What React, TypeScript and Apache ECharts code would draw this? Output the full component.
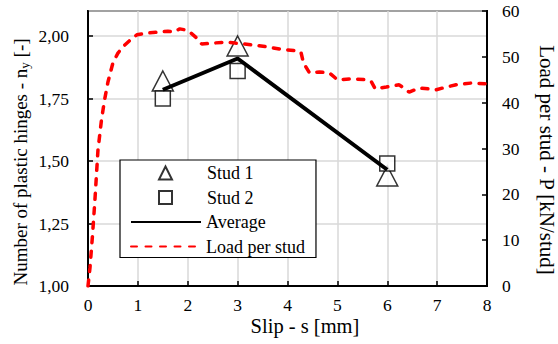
import React, { useEffect, useRef } from "react";
import * as echarts from "echarts";

const studSlip = [1.5, 3, 6];
const stud1 = [1.82, 1.96, 1.44];
const stud2 = [1.75, 1.86, 1.49];
const average = [1.785, 1.91, 1.465];

const loadSlip = [0, 0.04, 0.09, 0.14, 0.2, 0.27, 0.33, 0.4, 0.5, 0.6, 0.7, 0.84, 0.98, 1.18, 1.44, 1.6, 1.72, 1.84, 1.94, 2.04, 2.18, 2.28, 2.5, 2.78, 2.95, 3.3, 3.58, 3.84, 4.2, 4.27, 4.32, 4.44, 4.64, 4.84, 5.0, 5.3, 5.58, 5.68, 5.76, 5.98, 6.24, 6.44, 6.64, 6.84, 6.98, 7.18, 7.38, 7.7, 8.0];
const loadValues = [0, 4, 11, 19, 29.7, 36.2, 40.5, 44.5, 48.7, 50.8, 52.2, 53.6, 54.8, 55.2, 55.4, 55.6, 55.4, 56.1, 55.9, 55.4, 54.1, 52.8, 53.0, 53.2, 53.0, 52.6, 52.2, 51.7, 51.3, 51.0, 48.7, 46.5, 46.7, 46.5, 45.0, 45.2, 45.0, 44.6, 43.0, 43.4, 43.9, 42.3, 43.2, 43.0, 42.8, 43.4, 43.9, 44.3, 44.1];

const xTitle = "Slip - s [mm]";
const leftTitle = "Number of plastic hinges - n{sub|y} [-]";
const rightTitle = "Load per stud - P [kN/stud]";

const FONT = "Liberation Serif";

export default function App() {
  const ref = useRef<HTMLDivElement>(null);
  useEffect(() => {
    if (!ref.current) return;
    const chart = echarts.init(ref.current, null, { renderer: "svg" });
    const pairs = (xs: number[], ys: number[]) => xs.map((x, i) => [x, ys[i]]);
    const hidden = { color: "transparent", borderWidth: 0, borderColor: "transparent" };
    chart.setOption({
      animation: false,
      backgroundColor: "#fff",
      textStyle: { fontFamily: FONT },
      grid: {
        left: 88,
        right: 71,
        top: 11,
        bottom: 58,
        show: true,
        borderColor: "#000",
        borderWidth: 2,
      },
      xAxis: {
        type: "value",
        min: 0,
        max: 8,
        interval: 1,
        axisLine: { lineStyle: { color: "#000", width: 2 } },
        axisTick: { inside: true, length: 5, lineStyle: { color: "#000", width: 1.5 } },
        axisLabel: { color: "#000", fontSize: 17.5, fontFamily: FONT, margin: 10 },
        splitLine: { show: true, lineStyle: { color: "#d9d9d9", width: 1.5 } },
      },
      yAxis: [
        {
          type: "value",
          min: 1,
          max: 2.1,
          interval: 0.25,
          axisLine: { show: true, lineStyle: { color: "#000", width: 2 } },
          axisTick: { show: true, inside: true, length: 5, lineStyle: { color: "#000", width: 1.5 } },
          axisLabel: {
            color: "#000",
            fontSize: 17.5,
            fontFamily: FONT,
            margin: 19,
            showMaxLabel: false,
            formatter: (v: number) => (v > 2.05 ? "" : v.toFixed(2).replace(".", ",")),
          },
          splitLine: { show: true, lineStyle: { color: "#d9d9d9", width: 1.5 } },
        },
        {
          type: "value",
          position: "right",
          min: 0,
          max: 60,
          interval: 10,
          axisLine: { show: true, lineStyle: { color: "#000", width: 2 } },
          axisTick: { show: true, inside: true, length: 5, lineStyle: { color: "#000", width: 1.5 } },
          axisLabel: { color: "#000", fontSize: 17.5, fontFamily: FONT, margin: 15 },
          splitLine: { show: false },
        },
      ],
      legend: [
        {
          orient: "vertical",
          left: 120,
          top: 160,
          data: [
            { name: "Average", itemStyle: hidden },
            { name: "Load per stud", itemStyle: hidden },
          ],
          padding: [53, 11, 2, 10],
          itemGap: 6.5,
          itemWidth: 70,
          itemHeight: 13,
          borderColor: "#000",
          borderWidth: 1.2,
          borderRadius: 0,
          backgroundColor: "#fff",
          textStyle: { color: "#000", fontSize: 18, fontFamily: FONT },
          z: 4,
        },
        {
          orient: "vertical",
          left: 158,
          top: 164,
          data: ["Stud 1", "Stud 2"],
          padding: 0,
          itemGap: 6.5,
          itemWidth: 13,
          itemHeight: 13,
          textStyle: { color: "#000", fontSize: 18, fontFamily: FONT, padding: [0, 0, 0, 30] },
          z: 5,
        },
      ],
      graphic: [
        {
          type: "text",
          x: 305,
          y: 326,
          style: { text: xTitle, fontSize: 20.5, fontFamily: FONT, fill: "#000", align: "center", verticalAlign: "middle" },
        },
        {
          type: "text",
          x: 20,
          y: 162,
          rotation: Math.PI / 2,
          style: {
            text: leftTitle,
            fontSize: 19,
            fontFamily: FONT,
            fill: "#000",
            align: "center",
            verticalAlign: "middle",
            rich: { sub: { fontSize: 13, fontFamily: FONT, padding: [8, 0, 0, 0], fill: "#000" } },
          },
        },
        {
          type: "text",
          x: 547,
          y: 160,
          rotation: -Math.PI / 2,
          style: { text: rightTitle, fontSize: 21, fontFamily: FONT, fill: "#000", align: "center", verticalAlign: "middle" },
        },
      ],
      series: [
        {
          name: "Stud 1",
          type: "scatter",
          data: pairs(studSlip, stud1),
          symbol: "triangle",
          symbolSize: [21, 20],
          itemStyle: { color: "#fff", borderColor: "#000", borderWidth: 1.5 },
        },
        {
          name: "Stud 2",
          type: "scatter",
          data: pairs(studSlip, stud2),
          symbol: "rect",
          symbolSize: 15,
          itemStyle: { color: "#fff", borderColor: "#000", borderWidth: 1.5 },
        },
        {
          name: "Average",
          type: "line",
          data: pairs(studSlip, average),
          symbol: "none",
          itemStyle: { color: "#000" },
          lineStyle: { color: "#000", width: 4 },
        },
        {
          name: "Load per stud",
          type: "line",
          yAxisIndex: 1,
          data: pairs(loadSlip, loadValues),
          symbol: "none",
          itemStyle: { color: "#ff0000" },
          lineStyle: { color: "#ff0000", width: 3.5, type: [6, 8.5], cap: "round" },
        },
      ],
    });
    return () => chart.dispose();
  }, []);
  return <div ref={ref} style={{ width: 558, height: 344, position: "absolute", left: 0, top: 0 }} />;
}
